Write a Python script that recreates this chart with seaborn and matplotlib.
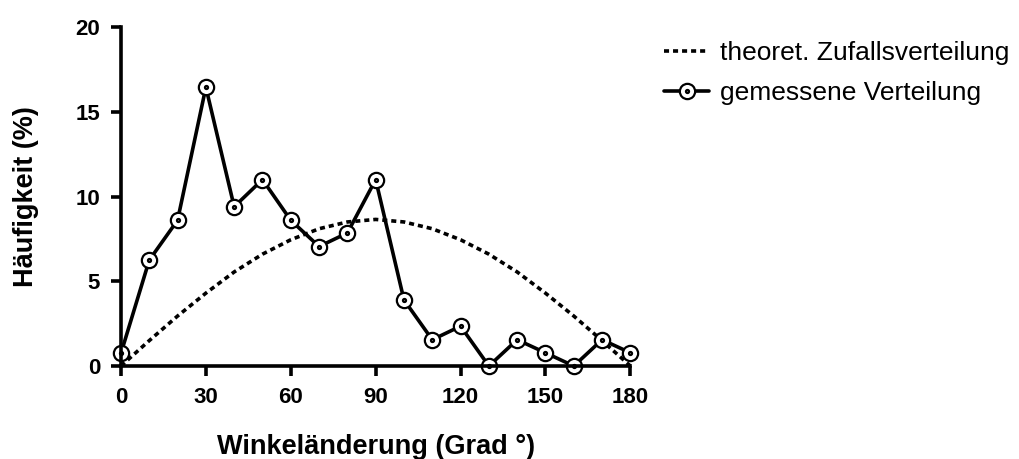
import numpy as np
import pandas as pd
import matplotlib
matplotlib.use('Agg')
import matplotlib.pyplot as plt
import seaborn as sns
from matplotlib.path import Path

# Daten
winkel = [0, 10, 20, 30, 40, 50, 60, 70, 80, 90, 100, 110, 120, 130, 140, 150, 160, 170, 180]
gemessen = [0.75, 6.25, 8.6, 16.45, 9.4, 11.0, 8.6, 7.05, 7.85, 11.0, 3.9, 1.55, 2.35, 0.0, 1.55, 0.78, 0.0, 1.55, 0.78]
theoret = [0.0, 1.5, 2.95, 4.3, 5.55, 6.6, 7.45, 8.1, 8.5, 8.65, 8.5, 8.1, 7.45, 6.6, 5.55, 4.3, 2.95, 1.5, 0.0]

df = pd.DataFrame({'winkel': winkel, 'gemessen': gemessen, 'theoret': theoret})

sns.set_style('ticks')
plt.rcParams['font.family'] = ['Liberation Sans', 'DejaVu Sans']
plt.rcParams['text.color'] = 'black'
plt.rcParams['axes.labelcolor'] = 'black'
plt.rcParams['xtick.color'] = 'black'
plt.rcParams['ytick.color'] = 'black'
plt.rcParams['axes.edgecolor'] = 'black'

# Kreis mit Punkt in der Mitte als Marker
kreis = Path.unit_circle()
punkt = Path(kreis.vertices * 0.2, kreis.codes)
marker_kreis = Path.make_compound_path(kreis, punkt)

fig = plt.figure(figsize=(10.2, 4.59), dpi=100)
ax = fig.add_axes([0.1186, 0.2026, 0.4994, 0.7384])

sns.lineplot(data=df, x='winkel', y='theoret', ax=ax, color='black', lw=2.6,
             linestyle=(0, (1.4, 1.1)), label='theoret. Zufallsverteilung', clip_on=False)
sns.lineplot(data=df, x='winkel', y='gemessen', ax=ax, color='black', lw=2.6,
             marker=marker_kreis, markersize=11, markerfacecolor='white',
             markeredgecolor='black', markeredgewidth=1.6,
             label='gemessene Verteilung', clip_on=False)

ax.set_xlim(0, 180)
ax.set_ylim(0, 20)
ax.set_xticks([0, 30, 60, 90, 120, 150, 180])
ax.set_yticks([0, 5, 10, 15, 20])
sns.despine(ax=ax)
for s in ['left', 'bottom']:
    ax.spines[s].set_linewidth(2.6)
ax.tick_params(axis='both', direction='out', length=7, width=2.6, labelsize=16, pad=8)
for lab in ax.get_xticklabels() + ax.get_yticklabels():
    lab.set_fontweight('bold')

ax.set_xlabel('Winkeländerung (Grad °)', fontsize=19.5, fontweight='bold', labelpad=19)
ax.set_ylabel('Häufigkeit (%)', fontsize=19.5, fontweight='bold', labelpad=26)

ax.get_legend().remove()
h, l = ax.get_legend_handles_labels()
fig.legend(h, l, loc='upper left', bbox_to_anchor=(0.628, 0.962), frameon=False,
           fontsize=19, handlelength=1.7, handletextpad=0.4, labelspacing=0.6)

fig.savefig('out.png', dpi=100)
